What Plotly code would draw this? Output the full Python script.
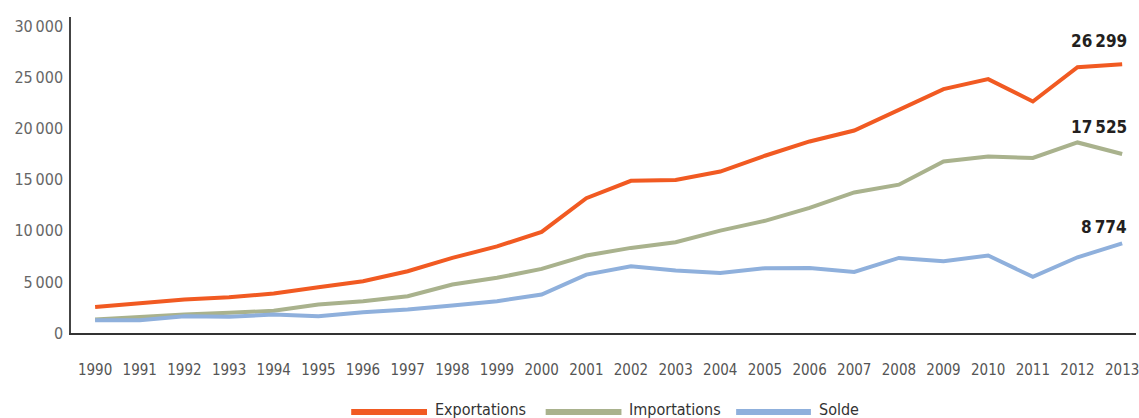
import plotly.graph_objects as go

# Trade series, 1990-2013
years = list(range(1990, 2014))
exportations = [2550, 2880, 3270, 3500, 3860, 4470, 5060, 6040, 7350, 8480, 9890, 13200,
                14900, 14970, 15800, 17350, 18750, 19820, 21850, 23870, 24850, 22660, 26020, 26299]
importations = [1320, 1580, 1810, 1975, 2170, 2790, 3110, 3600, 4740, 5400, 6280, 7580,
                8330, 8880, 10020, 10980, 12240, 13760, 14520, 16790, 17280, 17130, 18650, 17525]
solde = [1250, 1250, 1640, 1590, 1810, 1640, 2030, 2300, 2690, 3110, 3760, 5720,
         6530, 6110, 5880, 6340, 6370, 5980, 7350, 7020, 7580, 5490, 7410, 8774]

series_names = ["Exportations", "Importations", "Solde"]
series_values = [exportations, importations, solde]
series_colors = ["#F15A22", "#A9B28D", "#8FB0DC"]
label_offsets = [23, 27, 16]  # vertical gap (px) between end point and its value label

y_ticks = [0, 5000, 10000, 15000, 20000, 25000, 30000]
y_tick_text = ["0", "5\u2009000", "10\u2009000", "15\u2009000", "20\u2009000", "25\u2009000", "30\u2009000"]

FONT = "DejaVu Sans Condensed, Liberation Sans Narrow, sans-serif"

fig = go.Figure()
for name, vals, col in zip(series_names, series_values, series_colors):
    fig.add_trace(go.Scatter(x=years, y=vals, mode="lines", name=name,
                             line=dict(color=col, width=4), showlegend=False))


def fmt(v):
    return f"{v:,}".replace(",", "\u2009")


# value labels at the last year
for vals, off in zip(series_values, label_offsets):
    fig.add_annotation(x=years[-1], y=vals[-1], text=fmt(vals[-1]), showarrow=False,
                       xanchor="right", yanchor="middle", xshift=7, yshift=off,
                       font=dict(family=FONT, size=17, color="#231F20", weight="bold"))

# legend drawn along the bottom edge
W = 1139
legend_x = [(352, 428, 434), (547, 623, 629), (738, 813, 819)]
for (x0, x1, xt), name, col in zip(legend_x, series_names, series_colors):
    fig.add_shape(type="line", xref="paper", yref="paper",
                  x0=(x0 - 71) / (W - 71), x1=(x1 - 71) / (W - 71),
                  y0=-79 / 316, y1=-79 / 316,
                  line=dict(color=col, width=6))
    fig.add_annotation(xref="paper", yref="paper", x=(xt - 71) / (W - 71), y=-76 / 316,
                       text=name, showarrow=False, xanchor="left", yanchor="middle",
                       font=dict(family=FONT, size=16, color="#333333"))

fig.update_layout(
    width=1139, height=418,
    margin=dict(l=71, r=0, t=17, b=85),
    paper_bgcolor="white", plot_bgcolor="white",
    font=dict(family=FONT),
    showlegend=False,
)
fig.update_xaxes(range=[1989.46, 2013.31], tickmode="array", tickvals=years,
                 ticktext=[str(y) for y in years], showgrid=False, zeroline=False,
                 showline=True, linecolor="#333333", linewidth=1.5, ticks="",
                 ticklabelstandoff=22, ticklabeloverflow="allow",
                 tickfont=dict(family=FONT, size=15, color="#555555"))
fig.update_yaxes(range=[0, 30930], tickmode="array", tickvals=y_ticks, ticktext=y_tick_text,
                 showgrid=False, zeroline=False, showline=True, linecolor="#444444",
                 linewidth=1.5, ticks="", ticklabelstandoff=3,
                 tickfont=dict(family=FONT, size=16, color="#666666"))

fig.write_html("out.html")
